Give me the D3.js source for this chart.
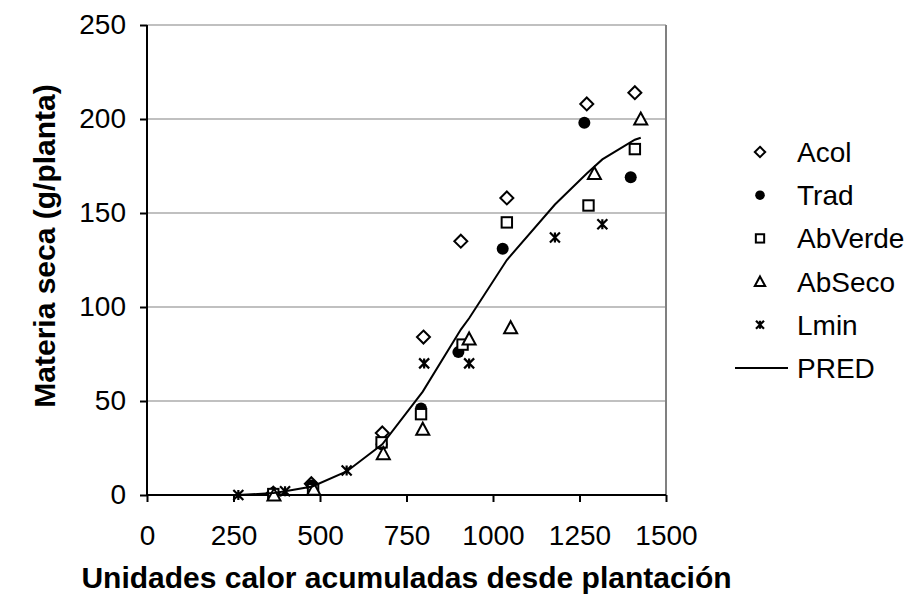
<!DOCTYPE html>
<html>
<head>
<meta charset="utf-8">
<script src="https://cdn.jsdelivr.net/npm/d3@7/dist/d3.min.js"></script>
<style>
  html, body { margin: 0; padding: 0; background: #fff; }
  svg { display: block; font-family: "Liberation Sans", Arial, sans-serif; }
</style>
</head>
<body>
<div id="chart"></div>
<script>
// --- data ---
const acol    = [[365, 1], [475, 6], [680, 33], [799, 84], [907, 135], [1040, 158], [1271, 208], [1410, 214]];
const trad    = [[365, 1], [476, 5], [678, 27], [792, 46], [900, 76], [1028, 131], [1264, 198], [1398, 169]];
const abVerde = [[365, 0.5], [480, 3], [678, 28], [792, 43], [912, 80], [1040, 145], [1276, 154], [1410, 184]];
const abSeco  = [[367, 0], [482, 3], [683, 22], [797, 35], [931, 83], [1051, 89], [1293, 171], [1427, 200]];
const lmin    = [[264, 0], [399, 2], [577, 13], [801, 70], [931, 70], [1179, 137], [1316, 144]];
const pred    = [[264, 0], [365, 1], [399, 2], [478, 4.5], [577, 12.5], [680, 27], [797, 55], [907, 88],
                 [931, 94], [1040, 125], [1179, 154.5], [1271, 171], [1316, 178.5], [1410, 189], [1427, 190]];

const xTicks = [0, 250, 500, 750, 1000, 1250, 1500];
const yTicks = [0, 50, 100, 150, 200, 250];
const seriesNames = ["Acol", "Trad", "AbVerde", "AbSeco", "Lmin", "PRED"];

const W = 908, H = 594;
const m = { left: 147, top: 25, right: 242, bottom: 99 };
const pw = W - m.left - m.right, ph = H - m.top - m.bottom;
const FONT = 28;

const x = d3.scaleLinear().domain([0, 1500]).range([0, pw]);
const y = d3.scaleLinear().domain([0, 250]).range([ph, 0]);

const svg = d3.select("#chart").append("svg").attr("width", W).attr("height", H);
const g = svg.append("g").attr("transform", `translate(${m.left},${m.top})`);

// gridlines
g.append("g").selectAll("line").data(yTicks.filter(d => d > 0)).enter().append("line")
  .attr("x1", 0).attr("x2", pw).attr("y1", d => y(d)).attr("y2", d => y(d))
  .attr("stroke", "#c0c0c0").attr("stroke-width", 2);
// right frame
g.append("line").attr("x1", pw).attr("x2", pw).attr("y1", 0).attr("y2", ph)
  .attr("stroke", "#808080").attr("stroke-width", 2);

// axes
const yAxis = g.append("g").call(d3.axisLeft(y).tickValues(yTicks).tickSize(7).tickPadding(14));
const xAxis = g.append("g").attr("transform", `translate(0,${ph})`)
  .call(d3.axisBottom(x).tickValues(xTicks).tickFormat(d3.format("d")).tickSize(7).tickPadding(23));
[xAxis, yAxis].forEach(a => {
  a.select(".domain").attr("stroke", "#000").attr("stroke-width", 2);
  a.selectAll(".tick line").attr("stroke", "#000").attr("stroke-width", 2);
  a.selectAll(".tick text").attr("font-size", FONT).attr("fill", "#000")
    .attr("font-family", "Liberation Sans, Arial, sans-serif");
});
xAxis.select(".domain").attr("d", `M0,0H${pw}`);
yAxis.select(".domain").attr("d", `M0,0V${ph}`);

// marker shapes
function marker(sel, type, k) {
  if (type === "Acol") {
    const r = 6.5 * k;
    sel.append("path").attr("d", `M0,${-r}L${r},0L0,${r}L${-r},0Z`)
      .attr("fill", "#fff").attr("stroke", "#000").attr("stroke-width", 2);
  } else if (type === "Trad") {
    sel.append("circle").attr("r", 6 * k).attr("fill", "#000");
  } else if (type === "AbVerde") {
    const h = 5.2 * k;
    sel.append("rect").attr("x", -h).attr("y", -h).attr("width", 2 * h).attr("height", 2 * h)
      .attr("fill", "#fff").attr("stroke", "#000").attr("stroke-width", 2);
  } else if (type === "AbSeco") {
    sel.append("path").attr("d", `M0,${-6.5 * k}L${6.5 * k},${5.5 * k}L${-6.5 * k},${5.5 * k}Z`)
      .attr("fill", "#fff").attr("stroke", "#000").attr("stroke-width", 2);
  } else if (type === "Lmin") {
    const r = 5 * k;
    sel.append("path")
      .attr("d", `M${-r},${-r}L${r},${r}M${r},${-r}L${-r},${r}M0,${-r}V${r}`)
      .attr("stroke", "#000").attr("stroke-width", 2.2).attr("fill", "none");
  }
}

const series = [["Acol", acol], ["Trad", trad], ["AbVerde", abVerde], ["AbSeco", abSeco], ["Lmin", lmin]];
series.forEach(([name, data]) => {
  g.append("g").selectAll("g").data(data).enter().append("g")
    .attr("transform", d => `translate(${x(d[0])},${y(d[1])})`)
    .each(function () { marker(d3.select(this), name, 1); });
});

// PRED line
g.append("path").datum(pred)
  .attr("d", d3.line().x(d => x(d[0])).y(d => y(d[1])))
  .attr("fill", "none").attr("stroke", "#000").attr("stroke-width", 2);

// axis titles
svg.append("text").attr("x", m.left + pw / 2).attr("y", 588)
  .attr("text-anchor", "middle").attr("font-size", 30).attr("font-weight", "bold")
  .text("Unidades calor acumuladas desde plantación");
svg.append("text").attr("transform", `translate(55,246) rotate(-90)`)
  .attr("text-anchor", "middle").attr("font-size", 30).attr("font-weight", "bold")
  .text("Materia seca (g/planta)");

// legend
const leg = svg.append("g").attr("transform", "translate(760,152)");
seriesNames.forEach((name, i) => {
  const row = leg.append("g").attr("transform", `translate(0,${i * 43.2})`);
  if (name === "PRED") {
    row.append("line").attr("x1", -25).attr("x2", 28).attr("stroke", "#000").attr("stroke-width", 2);
  } else {
    marker(row, name, 0.8);
  }
  row.append("text").attr("x", 37).attr("y", 10).attr("font-size", FONT).text(name);
});
</script>
</body>
</html>
